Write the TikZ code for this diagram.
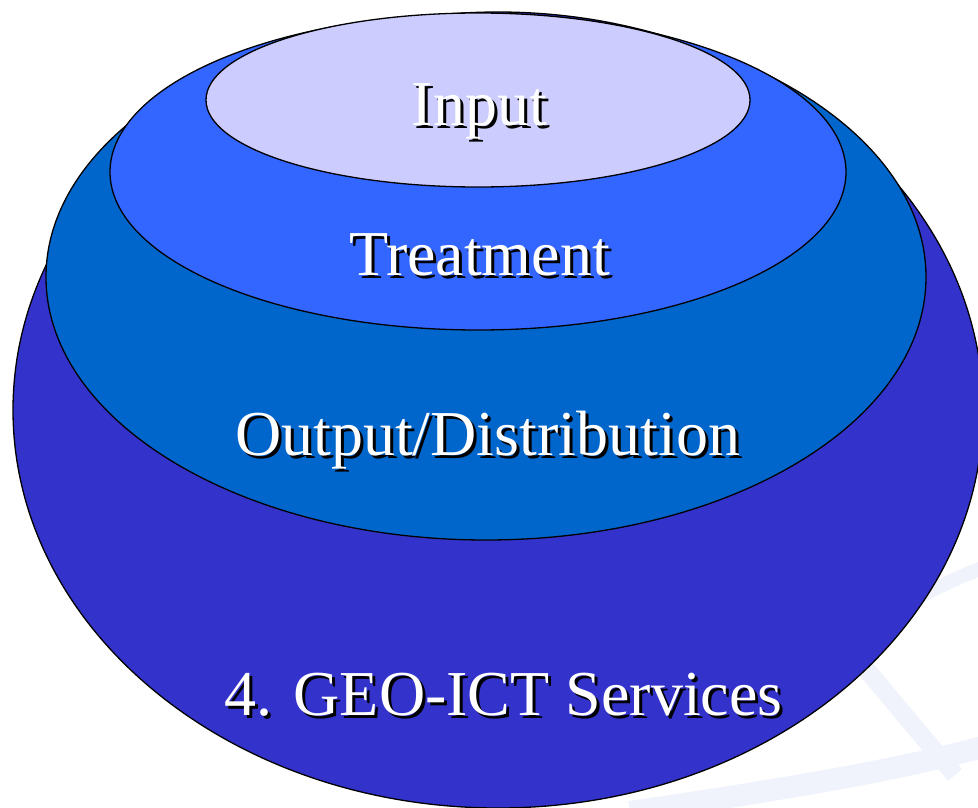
\documentclass[tikz,border=0pt]{standalone}
\usepackage{fontspec}
\setmainfont{Liberation Serif}
\usetikzlibrary{shapes.geometric}
\definecolor{cOuter}{HTML}{3333CC}
\definecolor{cOut}{HTML}{0066CC}
\definecolor{cTreat}{HTML}{3366FF}
\definecolor{cIn}{HTML}{CCCCFF}
\definecolor{cWm}{HTML}{F0F3FB}
\newcommand\shadowtxt[1]{\rlap{\hspace{3pt}\raisebox{-3pt}{\textcolor{black}{#1}}}\textcolor{white}{#1}}
\tikzset{
  layer/.style={ellipse, draw=black, line width=1.3pt, inner sep=0pt},
  wm/.style={draw=cWm, line cap=butt},
  lbl/.style={font=\fontsize{64}{70}\selectfont, inner sep=0pt, anchor=base}
}
\begin{document}
\begin{tikzpicture}[x=1pt,y=-1pt]
\useasboundingbox (0,0) rectangle (978,808);
\fill[white] (0,0) rectangle (978,808);
% faint watermark
\begin{scope}
\clip (0,0) rectangle (978,808);
\draw[wm, line width=22pt] (630,812) .. controls (780,790) and (900,770) .. (990,745);
\draw[wm, line width=18pt] (850,650) -- (955,775);
\draw[wm, line width=14pt] (880,620) .. controls (920,595) and (950,580) .. (990,565);
\end{scope}
% layers
\node[layer, fill=cOuter, minimum width=970pt, minimum height=796pt] (l4) at (498,410) {};
\node[layer, fill=cOut, minimum width=880pt, minimum height=526pt] (l3) at (486,277) {};
\node[layer, fill=cTreat, minimum width=736pt, minimum height=316pt] (l2) at (478,172) {};
\node[layer, fill=cIn, minimum width=544pt, minimum height=174pt] (l1) at (478,100) {};
% labels with shadows
\node[lbl] (t1) at (479.5,125) {\shadowtxt{Input}};
\node[lbl] (t2) at (479.5,275) {\shadowtxt{Treatment}};
\node[lbl] (t3) at (487.5,455) {\shadowtxt{Output/Distribution}};
\node[lbl] (t4) at (503.5,715) {\shadowtxt{4. GEO-ICT Services}};
\end{tikzpicture}
\end{document}
